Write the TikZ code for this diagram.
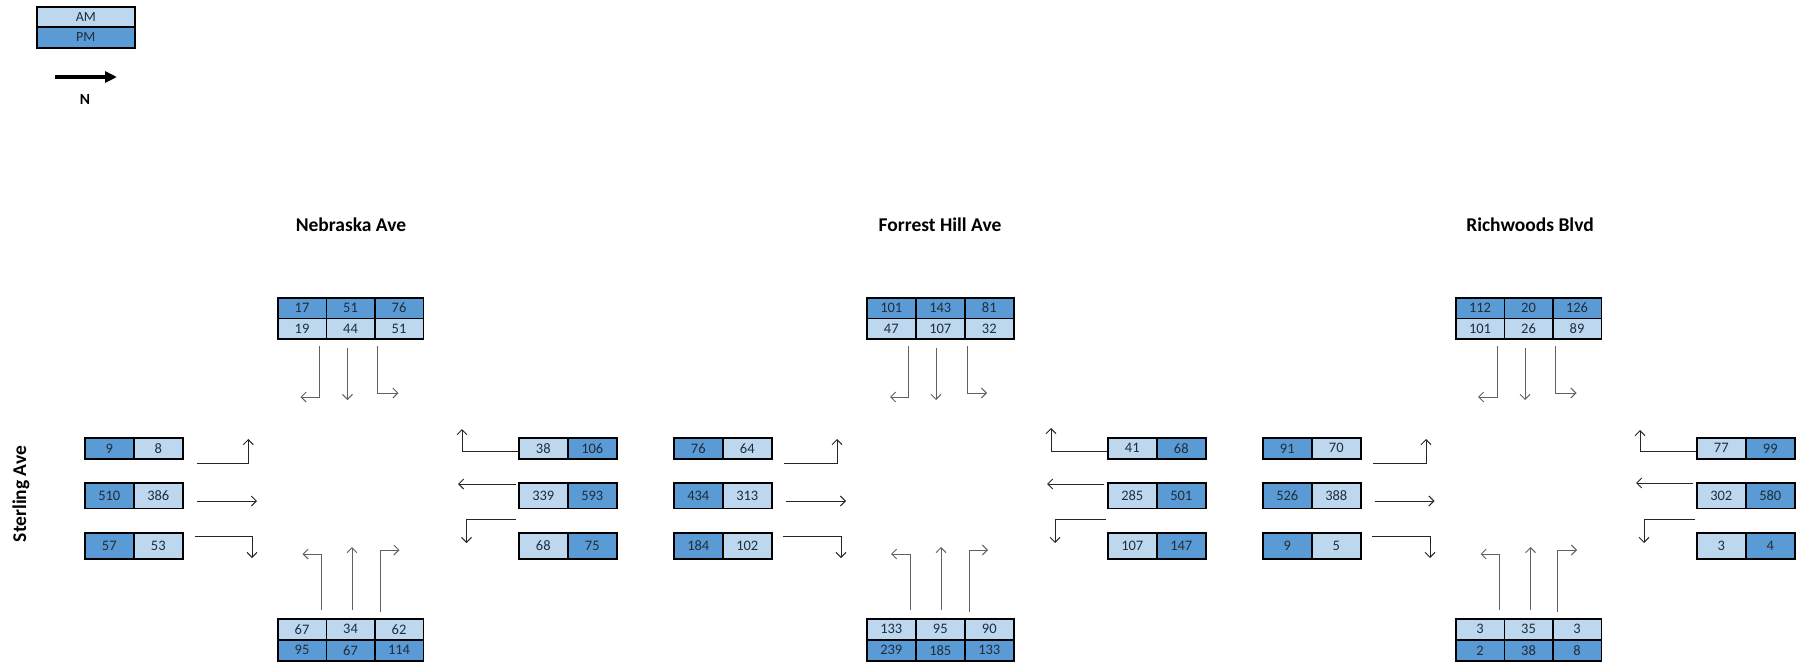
\documentclass[tikz,border=0pt]{standalone}
\usepackage{fontspec}
\setmainfont{Carlito}
\usetikzlibrary{arrows.meta}
\definecolor{lightc}{HTML}{BDD7EE}
\definecolor{darkc}{HTML}{5B9BD5}
\definecolor{txtc}{HTML}{1F2D3D}
\tikzset{
  cellbox/.style={draw=black, line width=1.6pt, inner sep=0pt, anchor=north west, text=txtc,
    font=\fontsize{14.5}{15}\selectfont},
  legbox/.style={cellbox, font=\fontsize{14}{15}\selectfont},
  mvarrow/.style={draw=black!62, line width=1pt, -{Straight Barb[length=5pt,width=10pt]}},
  hzarrow/.style={mvarrow, draw=black!85},
  streettitle/.style={font=\bfseries\fontsize{19.5}{21}\selectfont},
}
\newcommand\cellnode[8]{% style name x y w h fill text
  \node[#1, fill=#7, minimum width=#5pt, minimum height=#6pt] (#2) at (#3,#4) {#8};}
\newcommand\rowthree[9]{% name x y w h fill t1 t2 t3
  \cellnode{cellbox}{#1-1}{#2}{#3}{#4}{#5}{#6}{#7}
  \cellnode{cellbox}{#1-2}{#2+#4}{#3}{#4}{#5}{#6}{#8}
  \cellnode{cellbox}{#1-3}{#2+2*#4}{#3}{#4}{#5}{#6}{#9}}
\newcommand\rowtwo[9]{% name x y w h fill1 t1 fill2 t2
  \cellnode{cellbox}{#1-1}{#2}{#3}{#4}{#5}{#6}{#7}
  \cellnode{cellbox}{#1-2}{#2+#4}{#3}{#4}{#5}{#8}{#9}}
\newcommand\mvpath[7]{% style name x1 y1 x2 y2 op
  \coordinate (#2-s) at (#3,#4); \coordinate (#2-e) at (#5,#6);
  \draw[#1] (#2-s) #7 (#2-e);}

\begin{document}
\begin{tikzpicture}[x=1pt,y=-1pt]
\useasboundingbox (0,0) rectangle (1808,662);

% legend
\cellnode{legbox}{legAM}{36}{6}{98}{20}{lightc}{AM}
\cellnode{legbox}{legPM}{36}{26}{98}{21}{darkc}{PM}
\coordinate (nArrS) at (55,77); \coordinate (nArrE) at (117,77);
\draw[line width=3.5pt, -{Triangle[length=12pt,width=11pt]}] (nArrS) -- (nArrE);
\node[font=\bfseries\fontsize{15.5}{16}\selectfont] (nLab) at (85,99) {N};

% titles
\node[streettitle] (tNeb) at (351,225) {Nebraska Ave};
\node[streettitle] (tFor) at (940,225) {Forrest Hill Ave};
\node[streettitle] (tRic) at (1530,225) {Richwoods Blvd};
\node[streettitle, rotate=90] (tSte) at (21,494) {Sterling Ave};

% ================= Nebraska =================
\rowthree{nTP}{277}{297}{48.5}{20.5}{darkc}{17}{51}{76}
\rowthree{nTA}{277}{317.5}{48.5}{20.5}{lightc}{19}{44}{51}
\rowtwo{nL1}{84}{437}{49}{21}{darkc}{9}{lightc}{8}
\rowtwo{nL2}{84}{482}{49}{25.5}{darkc}{510}{lightc}{386}
\rowtwo{nL3}{84}{532}{49}{26}{darkc}{57}{lightc}{53}
\rowtwo{nR1}{518}{437}{49}{21}{lightc}{38}{darkc}{106}
\rowtwo{nR2}{518}{482}{49}{25.5}{lightc}{339}{darkc}{593}
\rowtwo{nR3}{518}{532}{49}{26}{lightc}{68}{darkc}{75}
\rowthree{nBA}{277}{618}{48.5}{21}{lightc}{67}{34}{62}
\rowthree{nBP}{277}{639}{48.5}{21}{darkc}{95}{67}{114}
\mvpath{mvarrow}{nTl}{319.5}{346}{300.5}{397}{|-}
\mvpath{mvarrow}{nTt}{347.5}{348}{347.5}{400}{--}
\mvpath{mvarrow}{nTr}{377.5}{346}{398.5}{393}{|-}
\mvpath{hzarrow}{nLl}{196.5}{463}{248.3}{439}{-|}
\mvpath{hzarrow}{nLt}{196.5}{501}{257}{501}{--}
\mvpath{hzarrow}{nLr}{194.5}{536}{252}{558}{-|}
\mvpath{hzarrow}{nRl}{518}{451}{462}{429}{-|}
\mvpath{hzarrow}{nRt}{516}{484}{458}{484}{--}
\mvpath{hzarrow}{nRr}{516}{519}{466.5}{543}{-|}
\mvpath{mvarrow}{nBl}{321.5}{610}{302.5}{554}{|-}
\mvpath{mvarrow}{nBt}{352}{610}{352}{547}{--}
\mvpath{mvarrow}{nBr}{380.5}{612}{399.5}{550}{|-}

% ================= Forrest Hill =================
\rowthree{fTP}{866}{297}{49}{20.5}{darkc}{101}{143}{81}
\rowthree{fTA}{866}{317.5}{49}{20.5}{lightc}{47}{107}{32}
\rowtwo{fL1}{673}{437}{49}{21}{darkc}{76}{lightc}{64}
\rowtwo{fL2}{673}{482}{49}{25.5}{darkc}{434}{lightc}{313}
\rowtwo{fL3}{673}{532}{49}{26}{darkc}{184}{lightc}{102}
\rowtwo{fR1}{1107}{437}{49}{21}{lightc}{41}{darkc}{68}
\rowtwo{fR2}{1107}{482}{49}{25.5}{lightc}{285}{darkc}{501}
\rowtwo{fR3}{1107}{532}{49}{26}{lightc}{107}{darkc}{147}
\rowthree{fBA}{866}{618}{49}{21}{lightc}{133}{95}{90}
\rowthree{fBP}{866}{639}{49}{21}{darkc}{239}{185}{133}
\mvpath{mvarrow}{fTl}{908}{346}{890}{397}{|-}
\mvpath{mvarrow}{fTt}{936}{348}{936}{400}{--}
\mvpath{mvarrow}{fTr}{967}{346}{987}{393}{|-}
\mvpath{hzarrow}{fLl}{784}{463}{837}{439}{-|}
\mvpath{hzarrow}{fLt}{786}{501}{846}{501}{--}
\mvpath{hzarrow}{fLr}{783}{536}{841}{558}{-|}
\mvpath{hzarrow}{fRl}{1107}{451}{1051}{428}{-|}
\mvpath{hzarrow}{fRt}{1104}{484}{1047}{484}{--}
\mvpath{hzarrow}{fRr}{1106}{519}{1055}{543}{-|}
\mvpath{mvarrow}{fBl}{910}{610}{891}{554}{|-}
\mvpath{mvarrow}{fBt}{941}{610}{941}{547}{--}
\mvpath{mvarrow}{fBr}{969}{612}{988}{550}{|-}

% ================= Richwoods =================
\rowthree{rTP}{1455}{297}{48.5}{20.5}{darkc}{112}{20}{126}
\rowthree{rTA}{1455}{317.5}{48.5}{20.5}{lightc}{101}{26}{89}
\rowtwo{rL1}{1262}{437}{49}{21}{darkc}{91}{lightc}{70}
\rowtwo{rL2}{1262}{482}{49}{25.5}{darkc}{526}{lightc}{388}
\rowtwo{rL3}{1262}{532}{49}{26}{darkc}{9}{lightc}{5}
\rowtwo{rR1}{1696}{437}{49}{21}{lightc}{77}{darkc}{99}
\rowtwo{rR2}{1696}{482}{49}{25.5}{lightc}{302}{darkc}{580}
\rowtwo{rR3}{1696}{532}{49}{26}{lightc}{3}{darkc}{4}
\rowthree{rBA}{1455}{618}{48.5}{21}{lightc}{3}{35}{3}
\rowthree{rBP}{1455}{639}{48.5}{21}{darkc}{2}{38}{8}
\mvpath{mvarrow}{rTl}{1497}{346}{1478}{397}{|-}
\mvpath{mvarrow}{rTt}{1525}{348}{1525}{400}{--}
\mvpath{mvarrow}{rTr}{1555}{346}{1576.5}{393}{|-}
\mvpath{hzarrow}{rLl}{1373}{463}{1426}{439}{-|}
\mvpath{hzarrow}{rLt}{1374.5}{501}{1434.5}{501}{--}
\mvpath{hzarrow}{rLr}{1372}{536}{1430}{558}{-|}
\mvpath{hzarrow}{rRl}{1696}{451.5}{1640}{430}{-|}
\mvpath{hzarrow}{rRt}{1693}{483}{1636}{483}{--}
\mvpath{hzarrow}{rRr}{1695}{519}{1644}{543}{-|}
\mvpath{mvarrow}{rBl}{1499}{610}{1480.5}{554}{|-}
\mvpath{mvarrow}{rBt}{1530.5}{610}{1530.5}{547}{--}
\mvpath{mvarrow}{rBr}{1557.5}{612}{1577}{550}{|-}
\end{tikzpicture}
\end{document}
